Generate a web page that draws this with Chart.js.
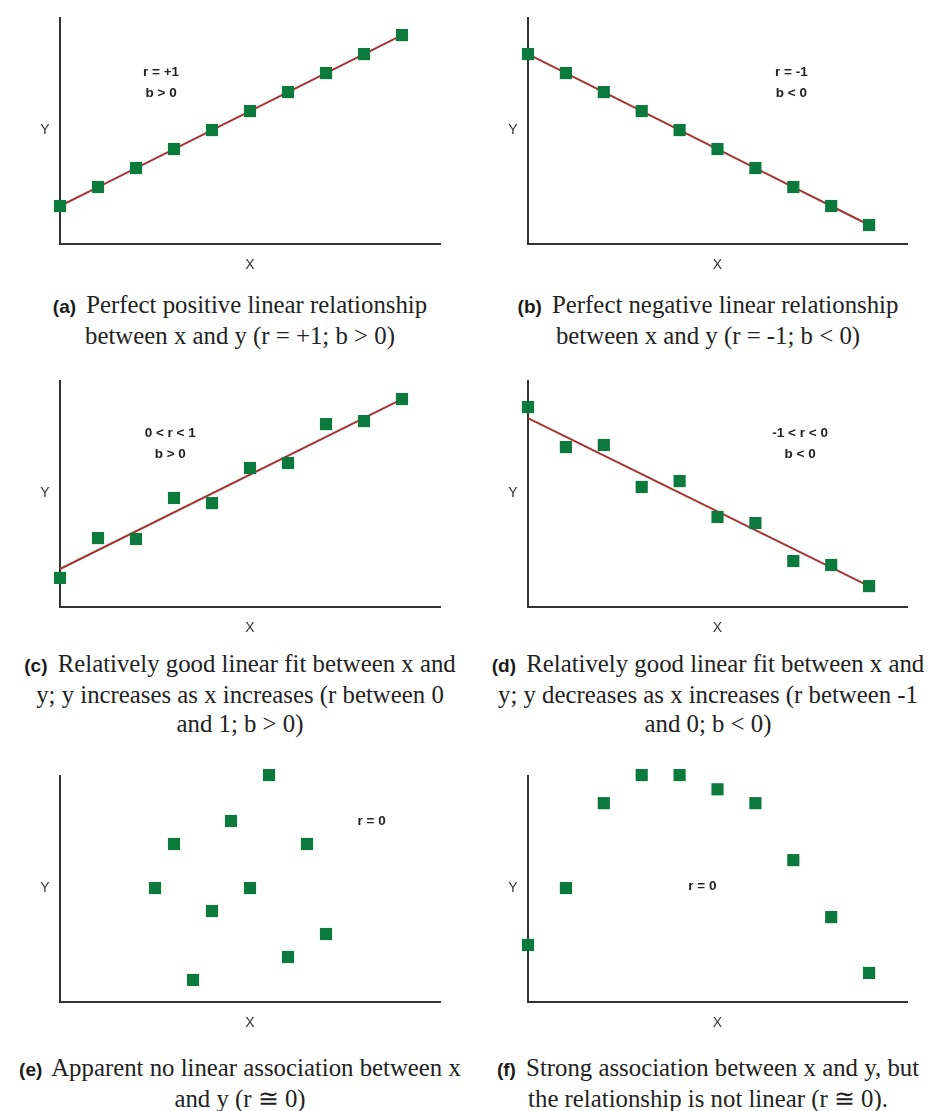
<!DOCTYPE html>
<html lang="en">
<head>
  <meta charset="UTF-8" />
  <title>Correlation scatter panels</title>
  <style>
    body {
      margin: 0;
      background: #ffffff;
      width: 928px;
      height: 1111px;
      position: relative;
      overflow: hidden;
    }
    canvas {
      position: absolute;
    }
    .caption {
      position: absolute;
      width: 480px;
      text-align: center;
      font-family: "Liberation Serif", "Times New Roman", serif;
      font-size: 24.8px;
      line-height: 29px;
      color: #222;
      white-space: nowrap;
    }
    .caption b {
      font-family: "Liberation Sans", Arial, sans-serif;
      font-size: 19px;
      color: #1a1a1a;
      margin-right: 4px;
    }
  </style>
</head>
<body>
  <canvas id="chartA" width="464" height="285" style="left:0;top:0"></canvas>
  <canvas id="chartB" width="464" height="285" style="left:464px;top:0"></canvas>
  <canvas id="chartC" width="464" height="285" style="left:0;top:363px"></canvas>
  <canvas id="chartD" width="464" height="285" style="left:464px;top:363px"></canvas>
  <canvas id="chartE" width="464" height="285" style="left:0;top:758px"></canvas>
  <canvas id="chartF" width="464" height="285" style="left:464px;top:758px"></canvas>

  <div class="caption" style="left:0;top:290px"><b>(a)</b> Perfect positive linear relationship<br>between x and y (r = +1; b &gt; 0)</div>
  <div class="caption" style="left:468px;top:290px"><b>(b)</b> Perfect negative linear relationship<br>between x and y (r = -1; b &lt; 0)</div>
  <div class="caption" style="left:0;top:649px"><b>(c)</b> Relatively good linear fit between x and<br>y; y increases as x increases (r between 0<br>and 1; b &gt; 0)</div>
  <div class="caption" style="left:468px;top:649px"><b>(d)</b> Relatively good linear fit between x and<br>y; y decreases as x increases (r between -1<br>and 0; b &lt; 0)</div>
  <div class="caption" style="left:0;top:1053px"><b>(e)</b> Apparent no linear association between x<br>and y (r ≅ 0)</div>
  <div class="caption" style="left:468px;top:1053px"><b>(f)</b> Strong association between x and y, but<br>the relationship is not linear (r ≅ 0).</div>

  <script src="https://cdn.jsdelivr.net/npm/chart.js"></script>
  <script>
    // x positions (arbitrary units, 0..10 along the axis)
    const xSteps = [0, 1, 2, 3, 4, 5, 6, 7, 8, 9];
    const xHalfSteps = [2.5, 3, 3.5, 4, 4.5, 5, 5.5, 6, 6.5, 7];
    const fitX = [0, 9];

    // y values
    const yA = [2, 3, 4, 5, 6, 7, 8, 9, 10, 11];
    const yB = [10, 9, 8, 7, 6, 5, 4, 3, 2, 1];
    const yC = [1.53, 3.63, 3.58, 5.74, 5.47, 7.32, 7.58, 9.63, 9.79, 10.95];
    const fitC = [2.0, 10.95];
    const yD = [10.53, 8.42, 8.53, 6.32, 6.63, 4.74, 4.42, 2.42, 2.21, 1.1];
    const fitD = [9.95, 1.1];
    const yE = [6.0, 8.32, 1.16, 4.79, 9.53, 6.0, 11.95, 2.37, 8.32, 3.58];
    const yF = [3.0, 6.0, 10.47, 11.95, 11.95, 11.2, 10.47, 7.47, 4.47, 1.53];

    // in-plot notes
    const notesA = ["r = +1", "b > 0"];
    const notesB = ["r = -1", "b < 0"];
    const notesC = ["0 < r < 1", "b > 0"];
    const notesD = ["-1 < r < 0", "b < 0"];
    const notesE = ["r = 0"];
    const notesF = ["r = 0"];

    const green = "#0b7a3c";
    const red = "#a53535";
    const axisColor = "#333333";

    function pairs(xs, ys) {
      return xs.map((x, i) => ({ x: x, y: ys[i] }));
    }

    // draws the upright "Y", the "X" and the notes
    const labelPlugin = {
      id: "labels",
      afterDraw(chart, args, opts) {
        const ctx = chart.ctx;
        const a = chart.chartArea;
        ctx.save();
        ctx.fillStyle = "#333";
        ctx.font = "14px 'Liberation Sans', Arial, sans-serif";
        ctx.textAlign = "center";
        ctx.textBaseline = "middle";
        ctx.fillText("Y", a.left - 15, (a.top + a.bottom) / 2 - 1);
        ctx.fillText("X", (a.left + a.right) / 2, a.bottom + 21);

        ctx.fillStyle = "#222";
        ctx.font = "bold 13.5px 'Liberation Sans', Arial, sans-serif";
        const px = chart.scales.x.getPixelForValue(opts.at[0]);
        const py = chart.scales.y.getPixelForValue(opts.at[1]);
        const n = opts.lines.length;
        opts.lines.forEach((t, i) => {
          ctx.fillText(t, px, py + (i - (n - 1) / 2) * 21);
        });
        ctx.restore();
      }
    };

    function makeChart(id, xs, ys, line, notes, noteAt, right) {
      const datasets = [{
        type: "scatter",
        data: pairs(xs, ys),
        pointStyle: "rect",
        pointRadius: 8.6,
        pointHoverRadius: 8.6,
        backgroundColor: green,
        borderColor: green,
        borderWidth: 0,
        clip: false
      }];
      if (line) {
        datasets.push({
          type: "line",
          data: line,
          borderColor: red,
          borderWidth: 2,
          pointRadius: 0,
          fill: false,
          clip: false
        });
      }
      new Chart(document.getElementById(id), {
        data: { datasets: datasets },
        options: {
          responsive: false,
          animation: false,
          events: [],
          layout: {
            padding: { left: right ? 64 : 60, right: right ? 21 : 24, top: 18, bottom: 41 }
          },
          plugins: {
            legend: { display: false },
            tooltip: { enabled: false },
            labels: { lines: notes, at: noteAt }
          },
          scales: {
            x: {
              type: "linear",
              min: 0,
              max: 10,
              ticks: { display: false },
              grid: { drawOnChartArea: false, drawTicks: false },
              border: { display: true, color: axisColor, width: 2 },
              afterFit: s => { s.height = 0; }
            },
            y: {
              type: "linear",
              min: 0,
              max: 11.9,
              ticks: { display: false },
              grid: { drawOnChartArea: false, drawTicks: false },
              border: { display: true, color: axisColor, width: 2 },
              afterFit: s => { s.width = 0; }
            }
          }
        },
        plugins: [labelPlugin]
      });
    }

    makeChart("chartA", xSteps, yA, pairs(xSteps, yA), notesA, [2.66, 8.5], false);
    makeChart("chartB", xSteps, yB, pairs(xSteps, yB), notesB, [6.95, 8.5], true);
    makeChart("chartC", xSteps, yC, pairs(fitX, fitC), notesC, [2.9, 8.6], false);
    makeChart("chartD", xSteps, yD, pairs(fitX, fitD), notesD, [7.18, 8.6], true);
    makeChart("chartE", xHalfSteps, yE, null, notesE, [8.2, 9.5], false);
    makeChart("chartF", xSteps, yF, null, notesF, [4.6, 6.1], true);
  </script>
</body>
</html>
